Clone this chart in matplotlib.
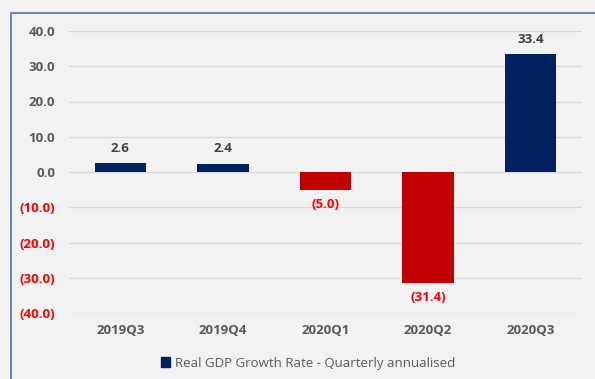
import matplotlib.pyplot as plt
from matplotlib.patches import Rectangle
from matplotlib.ticker import FuncFormatter

quarters = ['2019Q3', '2019Q4', '2020Q1', '2020Q2', '2020Q3']
growth = [2.6, 2.4, -5.0, -31.4, 33.4]
yticks = [-40, -30, -20, -10, 0, 10, 20, 30, 40]

navy = '#002060'
red = '#c00000'
label_grey = '#595959'

plt.rcParams['font.family'] = ['Open Sans', 'DejaVu Sans']
plt.rcParams['font.weight'] = 'bold'

fig = plt.figure(figsize=(5.95, 3.79), dpi=100)
fig.patch.set_facecolor('#f2f2f2')
ax = fig.add_axes([69 / 595, 1 - 313 / 379, 513 / 595, 282 / 379])
ax.set_facecolor('#f2f2f2')

# frame around the chart
fig.patches.append(Rectangle((11 / 595, -0.1), 1.0, 1 - 13 / 379 + 0.1,
                             transform=fig.transFigure, fill=False,
                             edgecolor='#5670a0', linewidth=1.2))

colors = [navy if v >= 0 else red for v in growth]
bars = ax.bar(quarters, growth, width=0.5, color=colors, zorder=3)

def fmt(v):
    return f'({abs(v):.1f})' if v < 0 else f'{v:.1f}'

for b, v in zip(bars, growth):
    x = b.get_x() + b.get_width() / 2
    if v >= 0:
        ax.annotate(fmt(v), (x, v), xytext=(0, 6), textcoords='offset points',
                    ha='center', va='bottom', fontsize=9.5, color='#404040',
                    fontweight='bold')
    else:
        ax.annotate(fmt(v), (x, v), xytext=(0, -6), textcoords='offset points',
                    ha='center', va='top', fontsize=9.5, color='#ff0000',
                    fontweight='bold')

ax.set_ylim(-40, 40)
ax.set_xlim(-0.5, 4.5)
ax.set_yticks(yticks)
ax.yaxis.set_major_formatter(FuncFormatter(lambda v, p: fmt(v)))
for t, v in zip(ax.get_yticklabels(), yticks):
    t.set_color('#ff0000' if v < 0 else label_grey)
ax.tick_params(axis='y', length=0, pad=10, labelsize=9.5)
ax.tick_params(axis='x', length=0, pad=8, labelsize=9.5, labelcolor=label_grey)
ax.grid(axis='y', color='#d9d9d9', linewidth=1, zorder=0)
for s in ax.spines.values():
    s.set_visible(False)

handle = Rectangle((0, 0), 1, 1, color=navy)
fig.legend([handle], ['Real GDP Growth Rate - Quarterly annualised'],
           loc='center', bbox_to_anchor=(308 / 595, 1 - 363 / 379),
           frameon=False, handlelength=0.7, handleheight=0.7,
           handletextpad=0.4, labelcolor=label_grey,
           prop={'weight': 'normal', 'size': 9.5})

fig.savefig('out.png', dpi=100, facecolor=fig.get_facecolor())
